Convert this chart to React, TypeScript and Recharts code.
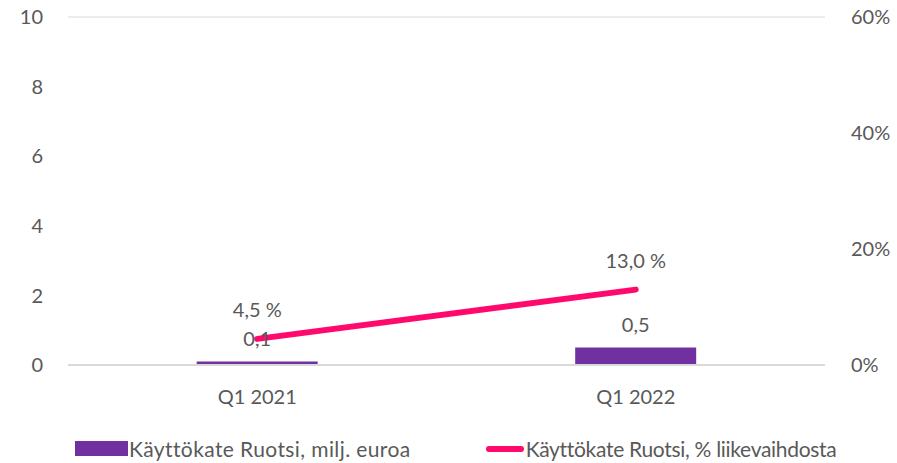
import {
  ComposedChart,
  Bar,
  Line,
  XAxis,
  YAxis,
  CartesianGrid,
  Legend,
  LabelList,
} from "recharts";

const quarters = ["Q1 2021", "Q1 2022"];
const ebitda = [0.1, 0.5];
const ebitdaPct = [4.5, 13.0];
const leftTicks = [0, 2, 4, 6, 8, 10];
const rightTicks = [0, 20, 40, 60];

const barName = "Käyttökate Ruotsi, milj. euroa";
const lineName = "Käyttökate Ruotsi, % liikevaihdosta";

const chartData = quarters.map((q, i) => ({
  quarter: q,
  ebitda: ebitda[i],
  pct: ebitdaPct[i],
}));

const FONT = "Lato, 'Open Sans', sans-serif";
const TEXT = "#595959";
const BAR = "#7030a0";
const LINE = "#ff0a6c";
const tickStyle = { fontSize: 20, fill: TEXT, fontFamily: FONT };

const fmtComma = (v: number, digits: number) => v.toFixed(digits).replace(".", ",");

function LegendContent() {
  return (
    <div
      style={{
        position: "absolute",
        left: 75,
        top: 436,
        display: "flex",
        alignItems: "center",
        fontFamily: FONT,
        fontSize: 21,
        color: TEXT,
        whiteSpace: "nowrap",
      }}
    >
      <span style={{ display: "inline-block", width: 53, height: 15, background: BAR, marginRight: 1 }} />
      <span style={{ letterSpacing: 0.4 }}>{barName}</span>
      <span
        style={{
          display: "inline-block",
          width: 38,
          height: 6,
          borderRadius: 3,
          background: LINE,
          marginLeft: 75,
          marginRight: 2,
        }}
      />
      <span style={{ letterSpacing: -0.3 }}>{lineName}</span>
    </div>
  );
}

export default function App() {
  return (
    <div style={{ position: "absolute", left: 0, top: 0, background: "#fff" }}>
      <ComposedChart
        width={897}
        height={463}
        data={chartData}
        margin={{ top: 17, right: 0, bottom: 0, left: 0 }}
        barCategoryGap="34%"
      >
        <CartesianGrid vertical={false} stroke="#e6e6e6" strokeWidth={1.5} />
        <XAxis
          dataKey="quarter"
          axisLine={{ stroke: "#d9d9d9", strokeWidth: 2 }}
          tickLine={false}
          tick={tickStyle}
          tickMargin={19}
          height={63}
        />
        <YAxis
          yAxisId="left"
          domain={[0, 10]}
          ticks={leftTicks}
          axisLine={false}
          tickLine={false}
          width={68}
          tickMargin={19}
          tick={tickStyle}
        />
        <YAxis
          yAxisId="right"
          orientation="right"
          domain={[0, 60]}
          ticks={rightTicks}
          axisLine={false}
          tickLine={false}
          width={72}
          tickMargin={20}
          tickFormatter={(v: number) => `${v}%`}
          tick={tickStyle}
        />
        <Legend
          verticalAlign="bottom"
          height={35}
          content={() => <LegendContent />}
          wrapperStyle={{ left: 0, top: 0, width: 897, height: 35 }}
        />
        <Bar yAxisId="left" dataKey="ebitda" name={barName} fill={BAR} isAnimationActive={false}>
          <LabelList
            dataKey="ebitda"
            position="top"
            offset={16}
            formatter={(v: number) => fmtComma(v, 1)}
            style={tickStyle}
          />
        </Bar>
        <Line
          yAxisId="right"
          dataKey="pct"
          name={lineName}
          stroke={LINE}
          strokeWidth={6}
          strokeLinecap="round"
          dot={false}
          activeDot={false}
          isAnimationActive={false}
        >
          <LabelList
            dataKey="pct"
            position="top"
            offset={22}
            formatter={(v: number) => `${fmtComma(v, 1)} %`}
            style={tickStyle}
          />
        </Line>
      </ComposedChart>
    </div>
  );
}
